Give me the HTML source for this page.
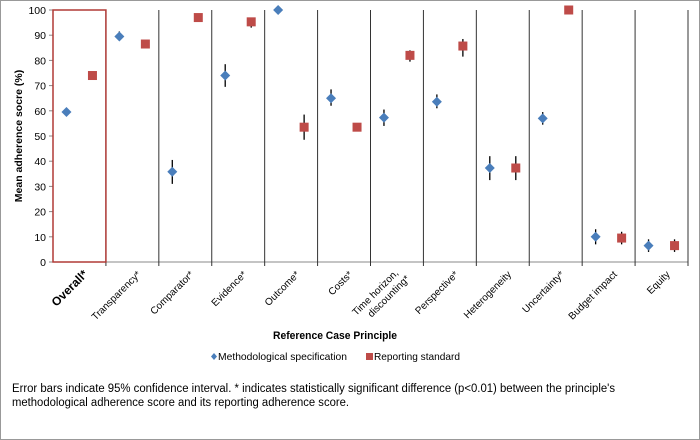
<!DOCTYPE html>
<html><head><meta charset="utf-8"><style>
body{margin:0;background:#fff;}
svg{display:block;font-family:"Liberation Sans",Arial,sans-serif;}
</style></head><body>
<svg id="chart" width="700" height="440" viewBox="0 0 700 440">
<rect x="0.5" y="0.5" width="699" height="439" fill="#fff" stroke="#999"/>
<g id="plot"></g>
<text x="0" y="0" transform="translate(22,136) rotate(-90)" text-anchor="middle" font-size="10.5" font-weight="bold" fill="#000">Mean adherence socre (%)</text>
<text x="335" y="339" text-anchor="middle" font-size="11" font-weight="bold" fill="#000" textLength="124" lengthAdjust="spacingAndGlyphs">Reference Case Principle</text>
<g>
<g>
<path d="M214 353 l3 3.5 l-3 3.5 l-3 -3.5z" fill="#4a7ebb"/>
<text x="218" y="360" font-size="10.5" fill="#000" textLength="129" lengthAdjust="spacingAndGlyphs">Methodological specification</text></g>
<g>
<rect x="366" y="353" width="7" height="7" fill="#be4b48"/>
<text x="374" y="360" font-size="10.5" fill="#000" textLength="86" lengthAdjust="spacingAndGlyphs">Reporting standard</text></g>
</g>
<text x="12" y="392" font-size="11.5" fill="#000" textLength="603" lengthAdjust="spacingAndGlyphs">Error bars indicate 95% confidence interval.  * indicates statistically significant difference (p&lt;0.01) between the principle's</text>
<text x="12" y="406" font-size="11.5" fill="#000" textLength="337" lengthAdjust="spacingAndGlyphs">methodological adherence score and its reporting adherence score.</text>
</svg>
<script>
const categories=["Overall*","Transparency*","Comparator*","Evidence*","Outcome*","Costs*","Time horizon,|discounting*","Perspective*","Heterogeneity","Uncertainty*","Budget impact","Equity"];
const methodValues=[59.5,89.5,35.8,74,100,65,57.3,63.6,37.3,57,10,6.5];
const methodLow=[null,88,31,69.5,null,62,54,61,32.5,54.5,7,4];
const methodHigh=[null,91.5,40.5,78.5,null,68.5,60.5,66.5,42,59.5,13,9];
const reportValues=[74,86.5,97,95.3,53.5,53.5,82,85.7,37.3,100,9.5,6.5];
const reportLow=[null,85,null,93,48.5,null,79.5,81.5,32.5,null,7,4];
const reportHigh=[null,87.5,null,97,58.5,null,84,88.5,42,null,12,9];
const yTicks=[0,10,20,30,40,50,60,70,80,90,100];

const NS="http://www.w3.org/2000/svg";
const g=document.getElementById('plot');
const X0=53,X1=688,Y0=262,Y1=10;
const bw=(X1-X0)/categories.length;
const xc=i=>X0+bw*(i+0.5);
const y=v=>Y0-(v/100)*(Y0-Y1);
function mk(tag,attrs){const e=document.createElementNS(NS,tag);for(const k in attrs)e.setAttribute(k,attrs[k]);g.appendChild(e);return e;}
let ax=mk('line',{x1:X0,y1:Y1,x2:X0,y2:Y0,stroke:'#888'});


yTicks.forEach(t=>{
 const tk=mk('line',{x1:X0-4,y1:y(t),x2:X0,y2:y(t),stroke:'#888'});
 
 
 const tl=mk('text',{x:X0-7,y:y(t)+4,'text-anchor':'end','font-size':'10.5',fill:'#000'});
 tl.textContent=t;
 
 
});
let xa=mk('line',{x1:X0,y1:Y0,x2:X1,y2:Y0,stroke:'#888'});


for(let i=1;i<=categories.length;i++){
 const xx=X0+bw*i;
 const d=mk('line',{x1:xx,y1:Y1,x2:xx,y2:Y0+4,stroke:'#333','stroke-width':1});
 
 
}
const box=mk('rect',{x:X0,y:Y1,width:bw,height:Y0-Y1,fill:'none',stroke:'#b03a36','stroke-width':1.5});


categories.forEach((c,i)=>{
 const lines=c.split('|');
 const ax_=xc(i)+9, ay=275;
 const t=mk('text',{transform:`translate(${ax_},${ay}) rotate(-45)`,'text-anchor':'end','font-size':i===0?'12':'10',fill:'#000','font-weight':i===0?'bold':'normal'});
 lines.forEach((l,j)=>{const ts=document.createElementNS(NS,'tspan');ts.setAttribute('x',j===0&&lines.length>1?-4:0);ts.setAttribute('dy',j===0?(lines.length>1?-6:0):12);ts.textContent=l;t.appendChild(ts);});
 
 
 const mx=xc(i)-13, rx=xc(i)+13;
 if(methodLow[i]!=null){const e=mk('line',{x1:mx,x2:mx,y1:y(methodLow[i]),y2:y(methodHigh[i]),stroke:'#000','stroke-width':1.3});
  
  }
 if(reportLow[i]!=null){const e=mk('line',{x1:rx,x2:rx,y1:y(reportLow[i]),y2:y(reportHigh[i]),stroke:'#000','stroke-width':1.3});
  
  }
 const my=y(methodValues[i]);
 const p=mk('path',{d:`M${mx} ${my-5} L${mx+5} ${my} L${mx} ${my+5} L${mx-5} ${my}Z`,fill:'#4a7ebb'});
 
 
 const ry=y(reportValues[i]);
 const r=mk('rect',{x:rx-4.5,y:ry-4.5,width:9,height:9,fill:'#be4b48'});
 
 
});
</script>
</body></html>
